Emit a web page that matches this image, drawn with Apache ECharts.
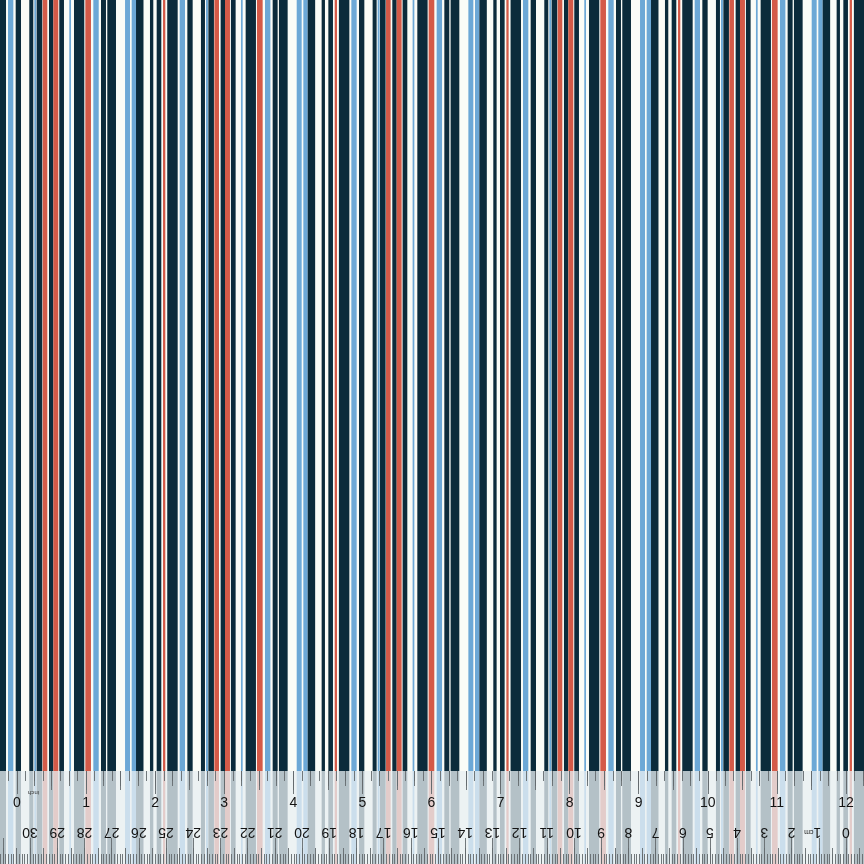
<!DOCTYPE html>
<html><head><meta charset="utf-8">
<script src="https://cdn.jsdelivr.net/npm/echarts@6/dist/echarts.min.js"></script>
<style>html,body{margin:0;padding:0;background:#fafcf7}#c{width:864px;height:864px}</style>
</head><body><div id="c"></div>
<script>
// ---- data (stripe positions in inches along the printed ruler) ----
const colorNames = ['navy', 'sky', 'red'];
// one repeat of the stripe sequence, offsets in inches from the repeat start
const stripeStart = [-0.064, 0.116, 0.227, 0.424, 0.497, 0.531, 0.618, 0.709, 0.772, 0.858, 1.003, 1.071, 1.235, 1.351, 1.462, 1.553, 1.810, 1.906, 1.969, 2.171, 2.268, 2.360];
const stripeEnd   = [ 0.087, 0.193, 0.304, 0.482, 0.525, 0.612, 0.685, 0.772, 0.844, 0.926, 1.028, 1.220, 1.317, 1.429, 1.534, 1.679, 1.882, 1.969, 2.077, 2.219, 2.335, 2.393];
const stripeColor = ['navy','sky','navy','navy','sky','navy','red','navy','red','navy','sky','navy','red','sky','navy','navy','sky','sky','navy','navy','navy','red'];
const repeatWidth = 2.485;   // inches
const repeatOrigin = -0.246; // ruler inch value of the first repeat start
const repeatCount = 6;
const inchLabels = [0,1,2,3,4,5,6,7,8,9,10,11,12];
const cmLabels = [0,1,2,3,4,5,6,7,8,9,10,11,12,13,14,15,16,17,18,19,20,21,22,23,24,25,26,27,28,29,30];

// ---- styles / layout ----
const palette = {navy:'#0b2b3b', sky:'#6ca8d6', red:'#d45a48'};
const inch0X = 17, pxPerInch = 69.08, pxPerCm = pxPerInch / 2.54;
const cm0X = inch0X + 12 * pxPerInch;
const rulerTop = 771;
const cmLabelY = 832;
const fontFam = 'Liberation Sans, Arial, sans-serif';

const stripeData = [];
for (let k = 0; k < repeatCount; k++) {
  for (let i = 0; i < stripeStart.length; i++) {
    stripeData.push([repeatOrigin + k * repeatWidth + stripeStart[i],
                     repeatOrigin + k * repeatWidth + stripeEnd[i],
                     colorNames.indexOf(stripeColor[i])]);
  }
}

const mainGrid = {left: inch0X - pxPerInch, width: 14 * pxPerInch, top: 0, bottom: 0, outerBoundsMode: 'none', containLabel: false};
const inchGrid = {left: inch0X - pxPerInch, width: 14 * pxPerInch, top: rulerTop, bottom: 0, z: 5, outerBoundsMode: 'none', containLabel: false,
  show: true, backgroundColor: 'rgba(232,238,242,0.77)', borderWidth: 0};
const cmGrid = {left: cm0X - 32 * pxPerCm, width: 33 * pxPerCm, top: rulerTop, bottom: 0, z: 5, show: false, outerBoundsMode: 'none', containLabel: false};

const inchTickSet = [[1/16, 6], [1/8, 10], [1/4, 15], [1/2, 19], [1, 23]];
const cmTickSet = [[0.1, 10], [0.5, 16], [1, 26]];
const tickStyle = {color: 'rgba(100,106,110,0.9)', width: 1};

const xAxes = [
  {type:'value', gridIndex:0, min:-1, max:13, show:false},
];
const yAxes = [
  {type:'value', gridIndex:0, min:0, max:1, show:false},
  {type:'value', gridIndex:1, min:0, max:1, show:false},
  {type:'value', gridIndex:2, min:0, max:1, show:false},
];
inchTickSet.forEach(([iv, len]) => {
  xAxes.push({type:'value', gridIndex:1, min:-1, max:13, interval: iv, position:'top', z:6,
    axisLine:{show:false}, splitLine:{show:false}, axisLabel:{show:false},
    axisTick:{show:true, inside:true, length:len, lineStyle:tickStyle}});
});
// inch labels
xAxes.push({type:'value', gridIndex:1, min:-1, max:13, interval:1, position:'top', z:7,
  axisLine:{show:false}, splitLine:{show:false}, axisTick:{show:false},
  axisLabel:{show:true, inside:true, margin:25, fontSize:14, color:'#141414', fontFamily:fontFam,
    hideOverlap:false, showMinLabel:true, showMaxLabel:true,
    formatter: v => inchLabels.indexOf(v) >= 0 ? String(v) : ''}});
const cmAxisIndex = xAxes.length;
cmTickSet.forEach(([iv, len]) => {
  xAxes.push({type:'value', gridIndex:2, min:-1, max:32, interval: iv, inverse:true, position:'bottom', z:6,
    axisLine:{show:false}, splitLine:{show:false}, axisLabel:{show:false},
    axisTick:{show:true, inside:true, length:len, lineStyle:tickStyle}});
});

const chart = echarts.init(document.getElementById('c'), null, {renderer:'canvas'});
chart.setOption({
  backgroundColor: '#fafcf7',
  animation: false,
  grid: [mainGrid, inchGrid, cmGrid],
  xAxis: xAxes,
  yAxis: yAxes,
  graphic: [{type:'text', left: 28, top: 790, z: 20, rotation: Math.PI,
    style:{text:'inch', fontSize:6, fill:'#333', fontFamily:fontFam}}],
  series: [{
    type: 'custom', xAxisIndex: 0, yAxisIndex: 0, z: 2,
    data: stripeData,
    renderItem: function (params, api) {
      const a = api.coord([api.value(0), 1]);
      const b = api.coord([api.value(1), 0]);
      return {type:'rect', shape:{x:a[0], y:a[1], width:b[0]-a[0], height:b[1]-a[1]},
        style:{fill: palette[colorNames[api.value(2)]]}};
    }
  }, {
    // centimetre numbers, printed upside down on the ruler
    type: 'custom', xAxisIndex: cmAxisIndex, yAxisIndex: 2, z: 8,
    data: cmLabels.map(v => [v, 0]),
    renderItem: function (params, api) {
      const v = api.value(0);
      const p = api.coord([v, 0]);
      const isOne = v === 1;
      return {type:'text', x: p[0] + (isOne ? -6 : 0), y: cmLabelY, rotation: Math.PI,
        style:{text: isOne ? '1{s|cm}' : String(v), align:'center', verticalAlign:'middle',
          fontSize:14, fill:'#141414', fontFamily:fontFam, rich:{s:{fontSize:7, fill:'#141414'}}}};
    }
  }]
});
</script>
</body></html>
